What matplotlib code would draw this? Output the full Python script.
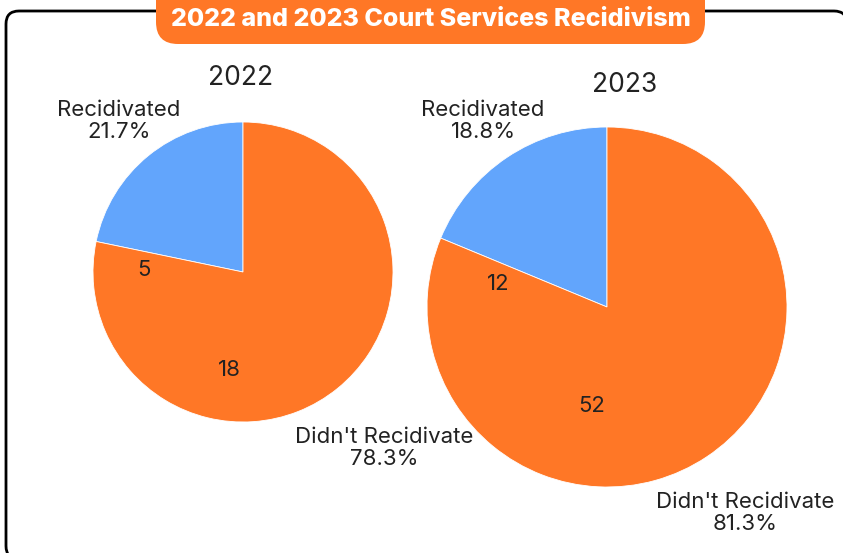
from decimal import Decimal, ROUND_HALF_UP
import matplotlib.pyplot as plt
from matplotlib.patches import FancyBboxPatch

plt.rcParams['font.family'] = ['Inter', 'DejaVu Sans']

years = ['2022', '2023']
labels = ['Recidivated', "Didn't Recidivate"]
recidivated = [5, 12]
not_recidivated = [18, 52]
colors = ['#62A5FC', '#FF7726']

W, H = 843, 553

# layout in pixel units (y measured from the top)
pie_center = [(243, 272), (607, 307)]
pie_radius = [150, 180]
year_pos = [(241, 78), (625, 85)]
name_pos = [[(119, 121), (384, 448)], [(483, 121), (745, 513)]]
value_pos = [[(144, 270), (229, 370)], [(498, 284), (592, 406)]]


def pct(part, total):
    v = Decimal(part * 100) / Decimal(total)
    return str(v.quantize(Decimal('0.1'), rounding=ROUND_HALF_UP)) + '%'


fig = plt.figure(figsize=(W / 100, H / 100), dpi=100)
ax = fig.add_axes([0, 0, 1, 1])
ax.set_xlim(0, W)
ax.set_ylim(0, H)
ax.set_aspect('equal')
ax.axis('off')

# outer frame
frame = FancyBboxPatch((6, -6), 847 - 6, H + 6 - 11,
                       boxstyle='round,pad=0,rounding_size=13',
                       fc='white', ec='black', lw=2)
ax.add_patch(frame)

# title pill
pill = FancyBboxPatch((156, H - 44), 705 - 156, 70,
                      boxstyle='round,pad=0,rounding_size=22',
                      fc='#FF7726', ec='none', zorder=3)
ax.add_patch(pill)
ax.text((156 + 705) / 2, H - 19, '2022 and 2023 Court Services Recidivism',
        ha='center', va='center', color='white', fontsize=18,
        fontweight='heavy', zorder=4)

for i, yr in enumerate(years):
    vals = [recidivated[i], not_recidivated[i]]
    total = sum(vals)
    cx, cy = pie_center[i]
    ax.pie(vals, colors=colors, startangle=90, counterclock=True,
           center=(cx, H - cy), radius=pie_radius[i],
           wedgeprops=dict(linewidth=0.6, edgecolor='white'))
    ax.text(year_pos[i][0], H - year_pos[i][1], yr, ha='center',
            va='center', fontsize=19, color='#222222')
    for j in range(2):
        nx, ny = name_pos[i][j]
        ax.text(nx, H - ny, labels[j] + '\n' + pct(vals[j], total),
                ha='center', va='center', fontsize=16, color='#222222',
                linespacing=1.12)
        vx, vy = value_pos[i][j]
        ax.text(vx, H - vy, str(vals[j]), ha='center', va='center',
                fontsize=16, color='#222222')

ax.set_xlim(0, W)
ax.set_ylim(0, H)
fig.savefig('out.png', dpi=100)
